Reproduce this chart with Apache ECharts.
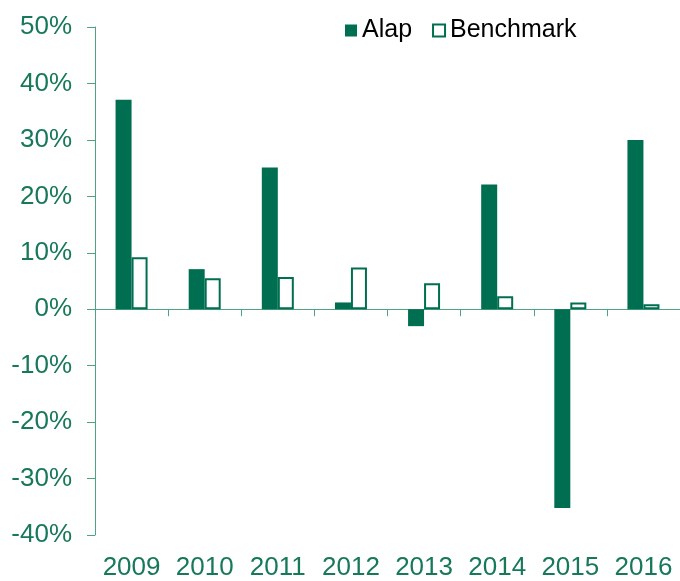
<!DOCTYPE html>
<html><head><meta charset="utf-8">
<script src="https://cdn.jsdelivr.net/npm/echarts@6/dist/echarts.min.js"></script>
<style>html,body{margin:0;padding:0;background:#fff}#c{width:680px;height:581px}</style>
</head><body><div id="c"></div>
<script>
const years = ['2009','2010','2011','2012','2013','2014','2015','2016'];
const alap = [37.1, 7.1, 25.1, 1.2, -3.0, 22.1, -35.2, 30.0];
const benchmark = [9.2, 5.5, 5.7, 7.4, 4.6, 2.3, 1.2, 0.9];
const yTicks = {min: -40, max: 50, interval: 10};

const green = '#006E50';
const axisGreen = '#4FA37F';
const labelGreen = '#17785A';
const chart = echarts.init(document.getElementById('c'));
chart.setOption({
  animation: false,
  textStyle: {fontFamily: 'Liberation Sans, Arial, sans-serif'},
  legend: {
    left: 340, top: 13,
    icon: 'rect',
    itemWidth: 12, itemHeight: 12, itemGap: 20,
    textStyle: {fontSize: 25, color: '#000'},
    data: ['Alap', 'Benchmark']
  },
  grid: {left: 95, top: 27, bottom: 44, width: 590},
  xAxis: [{
    type: 'category', data: years,
    axisLine: {onZero: true, lineStyle: {color: axisGreen, width: 1}},
    axisTick: {show: true, length: 7, lineStyle: {color: axisGreen}},
    axisLabel: {show: false}
  }, {
    type: 'category', data: years, position: 'bottom',
    axisLine: {show: false}, axisTick: {show: false},
    axisLabel: {color: labelGreen, fontSize: 26, margin: 20, interval: 0}
  }],
  yAxis: {
    type: 'value', min: yTicks.min, max: yTicks.max, interval: yTicks.interval,
    axisLine: {show: true, lineStyle: {color: axisGreen}},
    axisTick: {show: true, length: 8, lineStyle: {color: axisGreen}},
    splitLine: {show: false},
    axisLabel: {color: labelGreen, fontSize: 26, margin: 23, formatter: v => v + '%'}
  },
  series: [{
    name: 'Alap', type: 'bar', xAxisIndex: 0, data: alap,
    barWidth: 16, barGap: '0%',
    itemStyle: {color: green}
  }, {
    name: 'Benchmark', type: 'bar', xAxisIndex: 0, data: benchmark,
    barWidth: 16, barGap: '0%',
    itemStyle: {color: '#fff', borderColor: green, borderWidth: 2}
  }]
});
</script></body></html>
